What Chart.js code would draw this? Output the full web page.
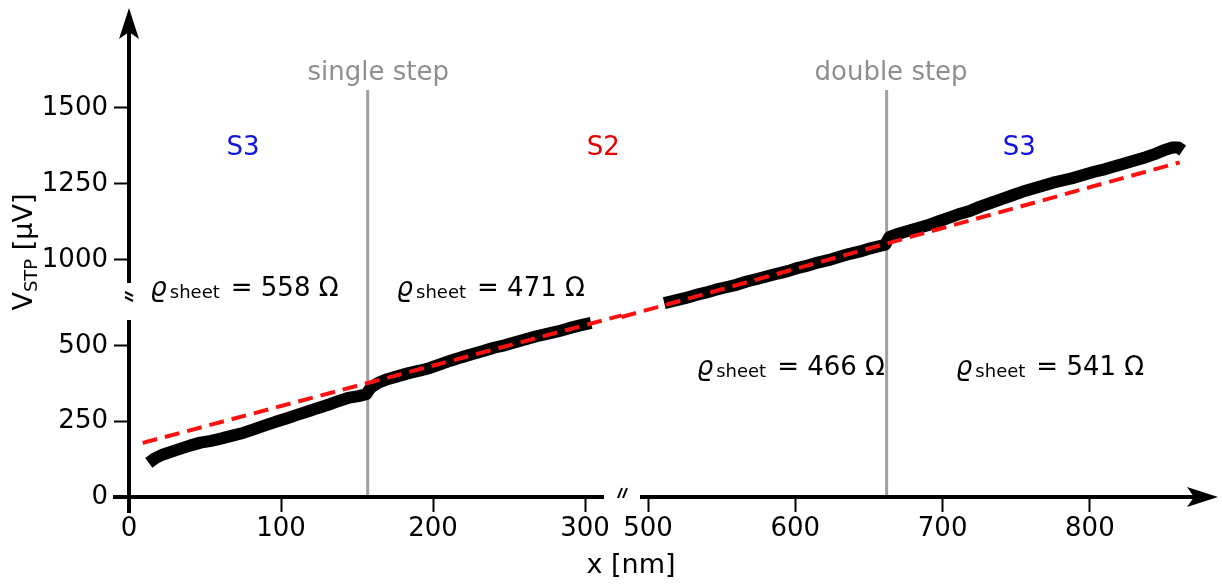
<!DOCTYPE html>
<html>
<head>
<meta charset="utf-8">
<script src="https://cdn.jsdelivr.net/npm/chart.js@4.4.1/dist/chart.umd.min.js"></script>
<style>
  html, body { margin: 0; padding: 0; background: #fff; }
</style>
</head>
<body>
<canvas id="stpChart" width="1222" height="584"></canvas>
<script>
// V_STP profile, part before the x-axis break (nm / µV)
const xLeft = [13, 17, 22, 28, 34, 40, 47, 54, 61, 68, 75, 82, 89, 96, 103, 110, 117, 124, 131, 138, 145, 151, 156,
  159, 164, 170, 177, 184, 191, 198, 205, 212, 219, 226, 233, 240, 247, 254, 261, 268, 275, 282, 289, 296, 304];
const vLeft = [113, 128, 140, 150, 160, 170, 180, 186, 194, 203, 212, 224, 236, 248, 259, 271, 282, 294, 305, 318, 329, 334, 340,
  362, 378, 390, 400, 410, 418, 427, 440, 452, 463, 473, 483, 494, 502, 512, 522, 532, 540, 548, 558, 567, 576];

// part after the break
const xRight = [511, 518, 525, 532, 539, 546, 553, 560, 567, 574, 581, 588, 595, 602, 609, 616, 623, 630, 637, 644, 651, 656, 661,
  664, 670, 677, 684, 691, 698, 705, 712, 719, 726, 733, 740, 747, 754, 761, 768, 775, 782, 789, 796, 803, 810, 817, 824, 831, 838, 845, 851, 856, 860, 863];
const vRight = [858, 866, 874, 884, 892, 902, 910, 918, 929, 937, 946, 955, 963, 974, 982, 992, 1000, 1010, 1020, 1028, 1038, 1044, 1050,
  1076, 1086, 1096, 1106, 1116, 1128, 1140, 1152, 1162, 1176, 1188, 1200, 1212, 1224, 1234, 1244, 1254, 1262, 1270, 1280, 1290, 1298, 1308, 1318, 1328, 1338, 1350, 1362, 1370, 1370, 1360];

// linear fit (red dashed), end points on each side of the break
const fitXLeft = [9, 324];
const fitVLeft = [179, 601];
const fitXRight = [482, 861];
const fitVRight = [812, 1321];

const ticksXLeft = [0, 100, 200, 300];
const ticksXRight = [500, 600, 700, 800];
const ticksYLow = [0, 250, 500];
const ticksYHigh = [1000, 1250, 1500];

const stepX = [157, 662];
const stepNames = ['single step', 'double step'];
const regionNames = ['S3', 'S2', 'S3'];
const regionX = [75, 312, 752];
const sheetValues = [558, 471, 466, 541];

const FONT = '"DejaVu Sans", Verdana, sans-serif';

function pts(xs, vs) {
  return xs.map((x, i) => ({ x, y: vs[i] }));
}

function fixTicks(list) {
  return (scale) => {
    scale.ticks = list.map((v) => ({ value: v }));
  };
}

// no extra label padding around the stacked scales
function fitBox(prop, size) {
  return (s) => {
    s[prop] = size;
    s.paddingTop = 0;
    s.paddingBottom = 0;
    s.paddingLeft = 0;
    s.paddingRight = 0;
  };
}

const tickFont = { family: FONT, size: 26 };
const gridOpts = { drawOnChartArea: false, drawTicks: true, tickLength: 15, tickColor: '#000', tickWidth: 2 };
const tickOpts = (pad) => ({
  font: tickFont, color: '#000', padding: pad, autoSkip: false, maxRotation: 0,
  callback: (v) => String(v),
});

// annotations: text, axis ids and data position
const regionLabels = regionNames.map((t, i) => ({
  text: t, x: regionX[i], xs: i < 2 ? 'xL' : 'xR', y: 1368, ys: 'yH',
  color: t === 'S2' ? '#e60000' : '#1414e0',
}));
const sheetLabels = [
  { v: sheetValues[0], x: 14, xs: 'xL', y: 882, ys: 'yH' },
  { v: sheetValues[1], x: 176, xs: 'xL', y: 882, ys: 'yH' },
  { v: sheetValues[2], x: 533, xs: 'xR', y: 404, ys: 'yL' },
  { v: sheetValues[3], x: 709, xs: 'xR', y: 404, ys: 'yL' },
];
const stepLabels = [
  { x: 164, xs: 'xL' },
  { x: 665, xs: 'xR' },
];
const stepTop = 1559;
const stepTextY = 1615;

function drawSheet(ctx, x, y, value) {
  ctx.textAlign = 'left';
  ctx.textBaseline = 'alphabetic';
  ctx.font = `italic 26px ${FONT}`;
  ctx.fillText('\u03F1', x, y);
  let w = ctx.measureText('\u03F1').width + 3;
  ctx.font = `18px ${FONT}`;
  ctx.fillText('sheet', x + w, y + 2);
  w += ctx.measureText('sheet').width + 3;
  ctx.font = `26px ${FONT}`;
  ctx.fillText(`= ${value} \u03A9`, x + w + 8, y);
}

const decor = {
  id: 'decor',
  beforeDatasetsDraw(chart) {
    const { ctx, chartArea, scales } = chart;
    ctx.save();
    ctx.strokeStyle = '#a0a0a0';
    ctx.lineWidth = 3;
    stepLabels.forEach((s, i) => {
      const px = scales[s.xs].getPixelForValue(stepX[i]);
      ctx.beginPath();
      ctx.moveTo(px, chartArea.bottom);
      ctx.lineTo(px, scales.yH.getPixelForValue(stepTop));
      ctx.stroke();
    });
    ctx.restore();
  },
  afterDraw(chart) {
    const { ctx, chartArea, scales } = chart;
    const ax = chartArea.left;
    const ay = chartArea.bottom;
    const xSplit = scales.xL.right;
    const ySplit = scales.yL.top;
    ctx.save();
    ctx.strokeStyle = '#000';
    ctx.fillStyle = '#000';
    ctx.lineWidth = 4;
    ctx.lineCap = 'butt';

    // x axis
    ctx.beginPath();
    ctx.moveTo(ax - 16, ay);
    ctx.lineTo(xSplit - 18, ay);
    ctx.moveTo(xSplit + 18, ay);
    ctx.lineTo(chartArea.right - 20, ay);
    ctx.stroke();
    const tx = chartArea.right;
    ctx.beginPath();
    ctx.moveTo(tx, ay);
    ctx.lineTo(tx - 31, ay - 10);
    ctx.lineTo(tx - 24, ay);
    ctx.lineTo(tx - 31, ay + 10);
    ctx.closePath();
    ctx.fill();

    // y axis
    ctx.beginPath();
    ctx.moveTo(ax, ay + 16);
    ctx.lineTo(ax, ySplit + 20);
    ctx.moveTo(ax, ySplit - 17);
    ctx.lineTo(ax, chartArea.top + 20);
    ctx.stroke();
    const ty = chartArea.top;
    ctx.beginPath();
    ctx.moveTo(ax, ty);
    ctx.lineTo(ax - 10, ty + 31);
    ctx.lineTo(ax, ty + 24);
    ctx.lineTo(ax + 10, ty + 31);
    ctx.closePath();
    ctx.fill();

    // break marks
    ctx.lineWidth = 2;
    ctx.beginPath();
    for (const d of [-2, 3]) {
      ctx.moveTo(xSplit + d - 2, ay + 1);
      ctx.lineTo(xSplit + d + 2, ay - 9);
      ctx.moveTo(ax - 4, ySplit + d - 6);
      ctx.lineTo(ax + 4, ySplit + d - 2);
    }
    ctx.stroke();

    // step labels
    ctx.fillStyle = '#8f8f8f';
    ctx.font = `26px ${FONT}`;
    ctx.textAlign = 'center';
    ctx.textBaseline = 'middle';
    stepLabels.forEach((s, i) => {
      ctx.fillText(stepNames[i], scales[s.xs].getPixelForValue(s.x), scales.yH.getPixelForValue(stepTextY));
    });

    // region labels
    ctx.font = `26px ${FONT}`;
    regionLabels.forEach((r) => {
      ctx.fillStyle = r.color;
      ctx.fillText(r.text, scales[r.xs].getPixelForValue(r.x), scales[r.ys].getPixelForValue(r.y));
    });

    // sheet resistance labels
    ctx.fillStyle = '#000';
    sheetLabels.forEach((s) => {
      drawSheet(ctx, scales[s.xs].getPixelForValue(s.x), scales[s.ys].getPixelForValue(s.y), s.v);
    });

    // axis titles
    ctx.textAlign = 'center';
    ctx.textBaseline = 'middle';
    ctx.font = `27px ${FONT}`;
    ctx.fillText('x [nm]', 631, 566);

    ctx.translate(22, 252);
    ctx.rotate(-Math.PI / 2);
    ctx.textAlign = 'left';
    ctx.textBaseline = 'alphabetic';
    ctx.font = `27px ${FONT}`;
    const wV = ctx.measureText('V').width;
    const wRest = ctx.measureText(' [\u00B5V]').width;
    ctx.font = `18px ${FONT}`;
    const wSub = ctx.measureText('STP').width;
    let x0 = -(wV + wSub + wRest) / 2;
    ctx.font = `27px ${FONT}`;
    ctx.fillText('V', x0, 10);
    ctx.font = `18px ${FONT}`;
    ctx.fillText('STP', x0 + wV, 15);
    ctx.font = `27px ${FONT}`;
    ctx.fillText(' [\u00B5V]', x0 + wV + wSub, 10);
    ctx.restore();
  },
};

const fitStyle = { borderColor: '#ff1010', borderWidth: 4, borderDash: [15, 8], pointRadius: 0, fill: false, clip: false };
const dataStyle = { borderColor: '#000', borderWidth: 12, borderJoinStyle: 'round', pointRadius: 0, fill: false, clip: false };

const ctx = document.getElementById('stpChart').getContext('2d');
new Chart(ctx, {
  type: 'line',
  data: {
    datasets: [
      { data: pts(fitXLeft, fitVLeft), xAxisID: 'xL', yAxisID: 'yL', ...fitStyle },
      { data: pts(fitXRight, fitVRight), xAxisID: 'xR', yAxisID: 'yH', ...fitStyle },
      { data: pts(xLeft, vLeft), xAxisID: 'xL', yAxisID: 'yL', ...dataStyle },
      { data: pts(xRight, vRight), xAxisID: 'xR', yAxisID: 'yH', ...dataStyle },
    ],
  },
  options: {
    responsive: false,
    animation: false,
    devicePixelRatio: 1,
    layout: { padding: { top: 8, right: 4, left: 0, bottom: 0 } },
    plugins: { legend: { display: false }, tooltip: { enabled: false } },
    scales: {
      xL: {
        type: 'linear', position: 'bottom', stack: 'xs', stackWeight: 493, weight: 0,
        min: 0, max: 324.3,
        afterBuildTicks: fixTicks(ticksXLeft),
        afterFit: fitBox('height', 87),
        grid: gridOpts, border: { display: false },
        ticks: tickOpts(2),
      },
      xR: {
        type: 'linear', position: 'bottom', stack: 'xs', stackWeight: 596, weight: 1,
        min: 482.3, max: 887,
        afterBuildTicks: fixTicks(ticksXRight),
        afterFit: fitBox('height', 87),
        grid: gridOpts, border: { display: false },
        ticks: tickOpts(2),
      },
      yL: {
        type: 'linear', position: 'left', stack: 'ys', stackWeight: 197, weight: 0,
        min: 0, max: 652,
        afterBuildTicks: fixTicks(ticksYLow),
        afterFit: fitBox('width', 129),
        grid: gridOpts, border: { display: false },
        ticks: tickOpts(6),
      },
      yH: {
        type: 'linear', position: 'left', stack: 'ys', stackWeight: 292, weight: 1,
        min: 868, max: 1829,
        afterBuildTicks: fixTicks(ticksYHigh),
        afterFit: fitBox('width', 129),
        grid: gridOpts, border: { display: false },
        ticks: tickOpts(6),
      },
    },
  },
  plugins: [decor],
});
</script>
</body>
</html>
